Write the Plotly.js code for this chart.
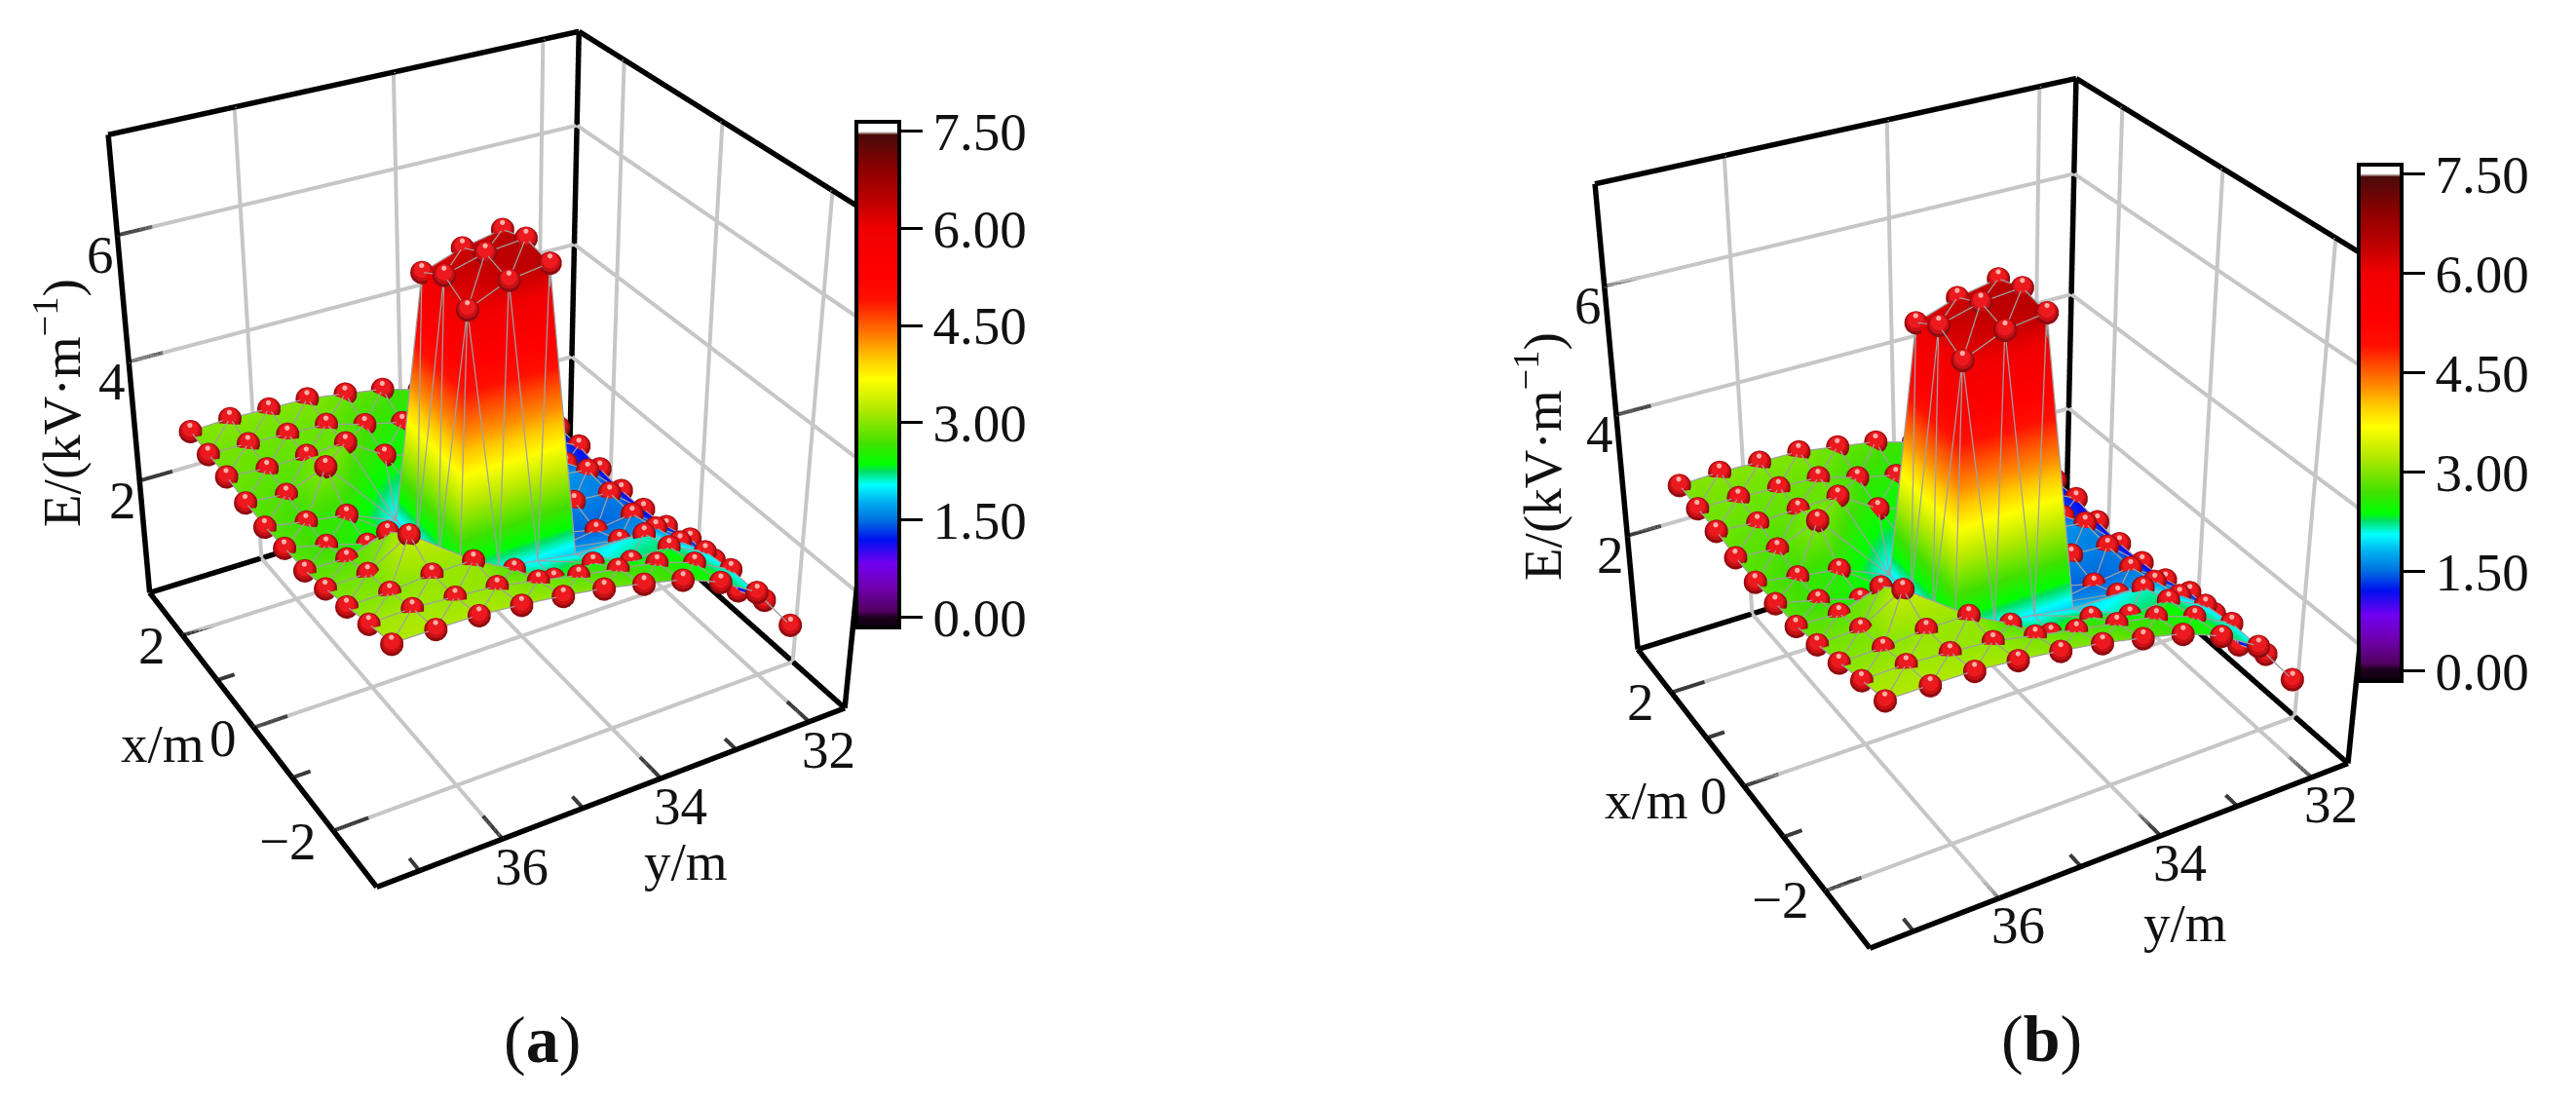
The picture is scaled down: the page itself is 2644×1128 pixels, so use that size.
<!DOCTYPE html>
<html>
<head>
<meta charset="utf-8">
<title>E field surface</title>
<script src="https://cdn.plot.ly/plotly-3.0.1.min.js"></script>
<style>
  html, body { margin: 0; background: #fff; overflow: hidden; width: 2644px; height: 1128px; }
  #chart { position: absolute; left: 0; top: -566px; width: 2644px; height: 2065px; }
</style>
</head>
<body>
<div id="chart"></div>
<script>
// measuring grid, rows run along x, columns along y
const xGrid = [2.5, 2, 1.5, 1, 0.5, 0, -0.5, -1, -1.5, -2, -2.5];
const yGrid = [37, 36.5, 36, 35.5, 35, 34.5, 34, 33.5, 33, 32.5, 32];
const N = null;
const eRows = [
  [2.99, 3.02, 3.00, 2.99, 2.89, 2.79, 2.60, 2.30, 2.00, 1.60, 1.20],
  [2.94, 2.93, 2.90, 2.88, 2.69, 2.54, 2.30, 2.00, 1.80, 1.50, 1.19],
  [2.91, 2.85, 2.88, 2.90, 2.50, 2.30, 2.10, 1.90, 1.70, 1.40, 1.11],
  [2.83, 2.77, 3.03, N, N, N, N, N, 1.70, 1.62, 1.06],
  [2.79, 2.67, 2.58, N, 6.03, 6.24, 6.36, N, 1.61, 1.56, 1.07],
  [2.81, 2.65, 2.46, N, 6.27, 6.44, 6.50, N, 1.46, 1.54, 1.12],
  [2.82, 2.80, 3.02, N, 6.05, 6.32, 6.41, N, 1.65, 1.66, 1.26],
  [2.91, 2.94, 3.34, N, N, N, N, N, 2.12, 1.78, 1.26],
  [3.01, 3.02, 3.09, 3.09, 2.74, 2.37, 2.42, 2.24, 2.27, 1.98, 1.10],
  [3.13, 3.15, 3.11, 3.06, 2.93, 2.80, 2.69, 2.58, 2.37, 2.05, 1.32],
  [3.22, 3.22, 3.21, 3.15, 3.07, 2.97, 2.83, 2.68, 2.43, 2.05, 1.28]
];
// foot of the peak, no sphere drawn on these
const footX = [0.75, 0.75, 0.75, 0.75, 0.25, -0.25, -0.75, -0.75, -0.75, -0.75, -0.25, 0.25];
const footY = [35.25, 34.75, 34.25, 33.75, 33.75, 33.75, 33.75, 34.25, 34.75, 35.25, 35.25, 35.25];
const footE = [2.00, 1.90, 1.80, 1.60, 1.50, 1.60, 1.90, 2.00, 2.10, 2.20, 2.00, 2.00];

const xTicks = [-2, 0, 2], xMinor = [-1, 1], xTickText = ['\u22122', '0', '2'];
const yTicks = [32, 34, 36], yMinor = [33, 35, 37], yTickText = ['32', '34', '36'];
const zTicks = [2, 4, 6], zTickText = ['2', '4', '6'];
const barTicks = [0, 1.5, 3, 4.5, 6, 7.5], barTickText = ['0.00', '1.50', '3.00', '4.50', '6.00', '7.50'];
const xRange = [-3, 3], yRange = [31.5, 37.5], zRange = [0, 7.5];

const colorValues = [-0.15, 0, 0.1, 0.47, 0.84, 1.2, 1.5, 1.79, 2.05, 2.26, 2.37, 2.68, 3.2, 3.68, 4.0, 4.26, 4.58, 4.9, 5.3, 6, 6.4, 6.9, 7.45, 7.5, 7.65];
const colorHex = ['#100010', '#1a001a', '#500060', '#7000b0', '#7000f0', '#0010f0', '#0070e0', '#00b0f0', '#00ffff', '#00e060', '#00ff00', '#40e000', '#b0e800', '#ffff00', '#ffc800', '#ff9000', '#ff5000', '#ff1000', '#ff0000', '#f00000', '#c00000', '#8f0000', '#4a0a0a', '#ffffff', '#ffffff'];

const SERIF = "'Liberation Serif', 'Times New Roman', serif";
const PAGE_TOP = 566, PAGE_W = 2644, PAGE_H = 2065, SCENE_H = 2011;

const colorscale = colorValues.map((v, i) => [(v - colorValues[0]) / (colorValues[colorValues.length - 1] - colorValues[0]), colorHex[i]]);

// flatten to node lists
const px = [], py = [], pz = [], ballIdx = [];
eRows.forEach((row, r) => row.forEach((e, c) => {
    if (e === null) return;
    ballIdx.push(px.length);
    px.push(xGrid[r]); py.push(yGrid[c]); pz.push(e);
}));
footX.forEach((x, i) => { px.push(x); py.push(footY[i]); pz.push(footE[i]); });

// plain Delaunay, sheared a little so the square cells get one diagonal only
function triangulate(xs, ys) {
    const ax = xs.map((x, i) => x + 0.09 * ys[i]), ay = ys, n = xs.length, tris = [];
    for (let a = 0; a < n; a++) for (let b = a + 1; b < n; b++) for (let c = b + 1; c < n; c++) {
        const bx = ax[b] - ax[a], by = ay[b] - ay[a], cx = ax[c] - ax[a], cy = ay[c] - ay[a];
        const d = 2 * (bx * cy - by * cx);
        if (Math.abs(d) < 1e-9) continue;
        const b2 = bx * bx + by * by, c2 = cx * cx + cy * cy;
        const ux = (cy * b2 - by * c2) / d, uy = (bx * c2 - cx * b2) / d, r2 = ux * ux + uy * uy;
        let empty = true;
        for (let p = 0; p < n && empty; p++) {
            if (p === a || p === b || p === c) continue;
            const qx = ax[p] - ax[a] - ux, qy = ay[p] - ay[a] - uy;
            if (qx * qx + qy * qy < r2 - 1e-9) empty = false;
        }
        if (empty) tris.push([a, b, c]);
    }
    return tris;
}
const tris = triangulate(px, py);

function segments(list) {
    const out = { x: [], y: [], z: [] };
    list.forEach(s => {
        out.x.push(s[0], s[3], null);
        out.y.push(s[1], s[4], null);
        out.z.push(s[2], s[5], null);
    });
    return out;
}

function lineTrace(sceneId, segs, color, width) {
    return Object.assign({ type: 'scatter3d', mode: 'lines', scene: sceneId, hoverinfo: 'skip', showlegend: false,
        line: { color: color, width: width }, connectgaps: false }, segs);
}

function buildPanel(sceneId, eye, barOpts) {
    const [x0, x1] = xRange, [y0, y1] = yRange, [z0, z1] = zRange;
    const gridSegs = [], frame = [], stubs = [];
    xTicks.forEach(v => {
        gridSegs.push([v, y1, z0, v, y0, z0], [v, y0, z0, v, y0, z1]);
        stubs.push([v, y1, z0, v, y1 - 0.42, z0]);
    });
    yTicks.forEach(v => {
        gridSegs.push([x0, v, z0, x1, v, z0], [x1, v, z0, x1, v, z1]);
        stubs.push([x0, v, z0, x0 + 0.42, v, z0]);
    });
    zTicks.forEach(v => {
        gridSegs.push([x1, y1, v, x1, y0, v], [x1, y0, v, x0, y0, v]);
        stubs.push([x1, y1, v, x1, y1 - 0.42, v]);
    });
    xMinor.forEach(v => stubs.push([v, y1, z0, v, y1 - 0.22, z0]));
    yMinor.forEach(v => stubs.push([x0, v, z0, x0 + 0.22, v, z0]));
    frame.push(
        [x1, y1, z0, x0, y1, z0], [x0, y1, z0, x0, y0, z0], [x0, y0, z0, x1, y0, z0], [x1, y0, z0, x1, y1, z0],
        [x1, y1, z0, x1, y1, z1], [x1, y0, z0, x1, y0, z1], [x0, y0, z0, x0, y0, z1],
        [x1, y1, z1, x1, y0, z1], [x1, y0, z1, x0, y0, z1]
    );

    // wire lines sit a hair towards the viewer, or the mesh swallows them
    const len = Math.hypot(eye.x, eye.y, eye.z), lift = 0.05;
    const lx = eye.x / len * lift, ly = eye.y / len * lift, lz = eye.z / len * lift * 1.25;
    const wire = [];
    const seen = {};
    tris.forEach(t => {
        [[t[0], t[1]], [t[1], t[2]], [t[0], t[2]]].forEach(e => {
            const key = e[0] + '_' + e[1];
            if (seen[key]) return;
            seen[key] = 1;
            wire.push([px[e[0]] + lx, py[e[0]] + ly, pz[e[0]] + lz, px[e[1]] + lx, py[e[1]] + ly, pz[e[1]] + lz]);
        });
    });

    const mesh = {
        type: 'mesh3d', scene: sceneId, x: px, y: py, z: pz,
        i: tris.map(t => t[0]), j: tris.map(t => t[1]), k: tris.map(t => t[2]),
        intensity: pz, colorscale: colorscale, cmin: colorValues[0], cmax: colorValues[colorValues.length - 1],
        flatshading: false, hoverinfo: 'skip',
        lighting: { ambient: 1, diffuse: 0, specular: 0, fresnel: 0, roughness: 1 },
        colorbar: Object.assign({
            lenmode: 'pixels', thickness: 44, thicknessmode: 'pixels', xanchor: 'left', yanchor: 'middle', xpad: 0, ypad: 0,
            outlinecolor: '#000', outlinewidth: 4, ticks: 'outside', ticklen: 22, tickwidth: 2.5, tickcolor: '#000',
            tickmode: 'array', tickvals: barTicks, ticktext: barTickText,
            tickfont: { family: SERIF, size: 55, color: '#111' }
        }, barOpts)
    };

    const ballX = ballIdx.map(i => px[i] + lx * 1.5), ballY = ballIdx.map(i => py[i] + ly * 1.5), ballZ = ballIdx.map(i => pz[i] + lz * 1.5);
    const ball = (dz, size, color) => ({
        type: 'scatter3d', mode: 'markers', scene: sceneId, hoverinfo: 'skip', showlegend: false,
        x: ballX, y: ballY, z: ballZ.map(v => v + dz),
        marker: { size: size, color: color, opacity: 1, line: { width: 0 } }
    });

    return [
        lineTrace(sceneId, segments(gridSegs), '#c6c6c6', 8),
        lineTrace(sceneId, segments(stubs), '#3a3a3a', 8),
        lineTrace(sceneId, segments(frame), '#000000', 11),
        mesh,
        lineTrace(sceneId, segments(wire), '#a0a0a0', 2.5),
        ball(0, 14, '#8f0b10'),
        ball(0.02, 12, '#c81015'),
        ball(0.04, 9.5, '#ec1a1e'),
        ball(0.10, 3, '#ffb0a8')
    ];
}

function sceneLayout(eye, aspect, domainX, domainY) {
    // a hair wider than the frame: lines sitting right on the range get clipped in bits
    const hidden = r => ({
        range: [r[0] - 0.01, r[1] + 0.01], autorange: false, showgrid: false, showline: false, zeroline: false, showticklabels: false,
        ticks: '', showbackground: false, showspikes: false, title: { text: '' }
    });
    const notes = [];
    const font = { family: SERIF, size: 55, color: '#111' };
    xTicks.forEach((v, i) => notes.push({ x: v, y: yRange[1], z: zRange[0], text: xTickText[i], showarrow: false, font: font,
        xanchor: 'right', yanchor: 'middle', xshift: -15, yshift: -10 }));
    yTicks.forEach((v, i) => notes.push({ x: xRange[0], y: v, z: zRange[0], text: yTickText[i], showarrow: false, font: font,
        xanchor: 'center', yanchor: 'middle', xshift: 20, yshift: -28 }));
    zTicks.forEach((v, i) => notes.push({ x: xRange[1], y: yRange[1], z: v, text: zTickText[i], showarrow: false, font: font,
        xanchor: 'center', yanchor: 'middle', xshift: -17, yshift: -20 }));
    return {
        domain: { x: domainX, y: domainY }, aspectmode: 'manual', aspectratio: aspect,
        camera: { eye: eye, center: { x: 0, y: 0, z: 0 }, up: { x: 0, y: 0, z: 1 }, projection: { type: 'perspective' } },
        xaxis: hidden(xRange), yaxis: hidden(yRange), zaxis: hidden(zRange),
        bgcolor: 'rgba(0,0,0,0)', annotations: notes, dragmode: false
    };
}

// page pixels to paper fractions
const fx = v => v / PAGE_W, fy = v => 1 - (v + PAGE_TOP) / PAGE_H;

function label(x, y, text, size, angle) {
    return { xref: 'paper', yref: 'paper', x: fx(x), y: fy(y), text: text, showarrow: false, textangle: angle || 0,
        xanchor: 'center', yanchor: 'middle', font: { family: SERIF, size: size, color: '#111' } };
}

const eyeA = { x: -3.197, y: 1.819, z: 2.247 }, eyeB = { x: -3.147, y: 1.808, z: 2.206 };
const centerA = [498, 440], centerB = [2033, 493];
const halfW = [498, 611];

const domA = { x: [fx(centerA[0] - halfW[0]), fx(centerA[0] + halfW[0])], y: [fy(centerA[1] + SCENE_H / 2), fy(centerA[1] - SCENE_H / 2)] };
const domB = { x: [fx(centerB[0] - halfW[1]), fx(centerB[0] + halfW[1])], y: [fy(centerB[1] + SCENE_H / 2), fy(centerB[1] - SCENE_H / 2)] };

const traces = [].concat(
    buildPanel('scene', eyeA, { x: fx(879), y: fy(384), len: 519 }),
    buildPanel('scene2', eyeB, { x: fx(2421), y: fy(433.5), len: 530 })
);

const E_TITLE = 'E/(kV\u00b7m<sup>\u22121</sup>)';
const layout = {
    width: PAGE_W, height: PAGE_H, margin: { l: 0, r: 0, t: 0, b: 0, pad: 0 },
    paper_bgcolor: '#fff', showlegend: false,
    scene: sceneLayout(eyeA, { x: 0.989, y: 0.986, z: 1 }, domA.x, domA.y),
    scene2: sceneLayout(eyeB, { x: 0.990, y: 0.995, z: 1 }, domB.x, domB.y),
    annotations: [
        label(59, 414, E_TITLE, 55, -90), label(167, 763, 'x/m', 55), label(704, 884, 'y/m', 55),
        label(556, 1067, '(<b>a</b>)', 68),
        label(1579, 468, E_TITLE, 55, -90), label(1690, 821, 'x/m', 55), label(2243, 947, 'y/m', 55),
        label(2095, 1066, '(<b>b</b>)', 68)
    ]
};

Plotly.newPlot('chart', traces, layout, { displayModeBar: false, responsive: false });
</script>
</body>
</html>
